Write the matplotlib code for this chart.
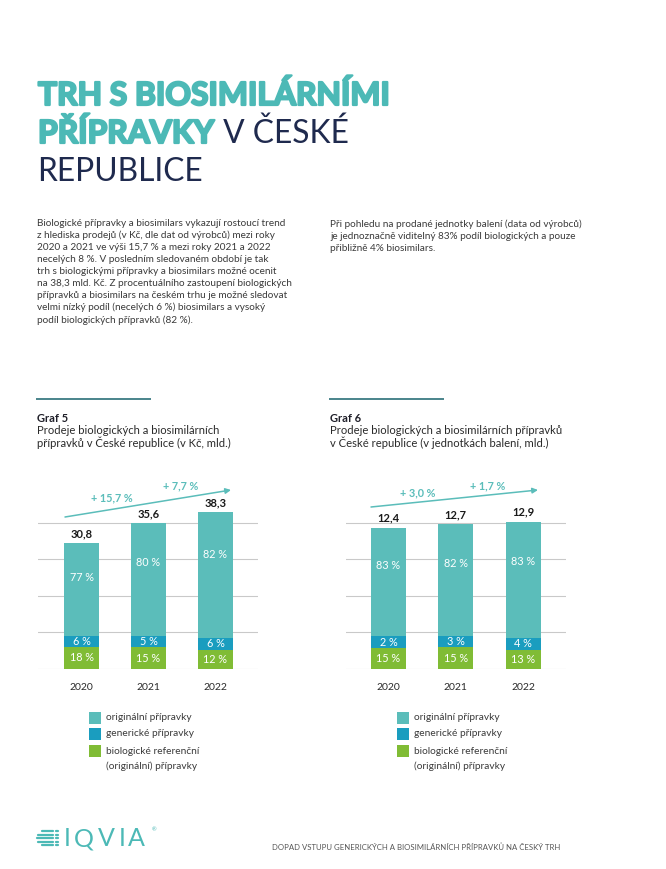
import matplotlib
matplotlib.use("Agg")
import matplotlib.pyplot as plt
import matplotlib.patheffects as pe
from matplotlib.patches import Rectangle
import numpy as np

plt.rcParams['font.family'] = ['Lato', 'DejaVu Sans']

# ---------------- data ----------------
years = ["2020", "2021", "2022"]

g5_totals = [30.8, 35.6, 38.3]
g5_original = [77, 80, 82]
g5_generic = [6, 5, 6]
g5_reference = [18, 15, 12]
g5_growth = ["+ 15,7 %", "+ 7,7 %"]

g6_totals = [12.4, 12.7, 12.9]
g6_original = [83, 82, 83]
g6_generic = [2, 3, 4]
g6_reference = [15, 15, 13]
g6_growth = ["+ 3,0 %", "+ 1,7 %"]

legend_labels = ["originální přípravky", "generické přípravky",
                 "biologické referenční\n(originální) přípravky"]

title_bold_1 = "TRH S BIOSIMILÁRNÍMI"
title_bold_2 = "PŘÍPRAVKY"
title_light_2 = " V ČESKÉ"
title_light_3 = "REPUBLICE"

body_left = [
    "Biologické přípravky a biosimilars vykazují rostoucí trend",
    "z hlediska prodejů (v Kč, dle dat od výrobců) mezi roky",
    "2020 a 2021 ve výši 15,7 % a mezi roky 2021 a 2022",
    "necelých 8 %. V posledním sledovaném období je tak",
    "trh s biologickými přípravky a biosimilars možné ocenit",
    "na 38,3 mld. Kč. Z procentuálního zastoupení biologických",
    "přípravků a biosimilars na českém trhu je možné sledovat",
    "velmi nízký podíl (necelých 6 %) biosimilars a vysoký",
    "podíl biologických přípravků (82 %).",
]
body_right = [
    "Při pohledu na prodané jednotky balení (data od výrobců)",
    "je jednoznačně viditelný 83% podíl biologických a pouze",
    "přibližně 4% biosimilars.",
]
g5_title = "Graf 5"
g5_sub = ["Prodeje biologických a biosimilárních",
          "přípravků v České republice (v Kč, mld.)"]
g6_title = "Graf 6"
g6_sub = ["Prodeje biologických a biosimilárních přípravků",
          "v České republice (v jednotkách balení, mld.)"]
footer_text = "DOPAD VSTUPU GENERICKÝCH A BIOSIMILÁRNÍCH PŘÍPRAVKŮ NA ČESKÝ TRH"

# ---------------- style ----------------
TEAL = "#5bbdba"
TITLE_TEAL = "#4cb9b6"
BLUE = "#1a9dbf"
GREEN = "#80bc35"
NAVY = "#1f2a4e"
BODY = "#3a3a3a"
GRID = "#c9c9c9"
MIN_SHARE = 0.08   # minimum visible share for the thin generic segment

W, H = 666, 869
fig = plt.figure(figsize=(W / 100, H / 100), dpi=100)
bg = fig.add_axes([0, 0, 1, 1])
bg.set_xlim(0, W)
bg.set_ylim(H, 0)
bg.axis("off")

# ---------------- title ----------------
TS = 22.9
heavy = [pe.withStroke(linewidth=1.6, foreground=TITLE_TEAL)]
bg.text(38, 105, title_bold_1, fontsize=TS, fontweight="bold",
        color=TITLE_TEAL, va="baseline", ha="left", path_effects=heavy)
t2 = bg.text(38, 143, title_bold_2, fontsize=TS, fontweight="bold",
             color=TITLE_TEAL, va="baseline", ha="left", path_effects=heavy)
fig.canvas.draw()
r = fig.canvas.get_renderer()
bb = t2.get_window_extent(r)
bg.text(bb.x1 + 1, 143, title_light_2, fontsize=TS, fontweight="normal",
        color=NAVY, va="baseline", ha="left")
bg.text(37, 181, title_light_3, fontsize=TS, fontweight="normal",
        color=NAVY, va="baseline", ha="left")

# ---------------- body text ----------------
for i, line in enumerate(body_left):
    bg.text(37, 223 + i * 12.1, line, fontsize=7.2, color=BODY, va="center", ha="left")
for i, line in enumerate(body_right):
    bg.text(330, 224 + i * 12.1, line, fontsize=7.2, color=BODY, va="center", ha="left")

# ---------------- graph headers ----------------
for x0, x1, title, sub in [(36, 151, g5_title, g5_sub), (329, 444, g6_title, g6_sub)]:
    bg.plot([x0, x1], [399, 399], color="#2b6f78", lw=1.2, solid_capstyle="butt")
    bg.text(x0 + 1, 418, title, fontsize=8, fontweight="bold", color="#1e1e28",
            va="center", ha="left")
    for i, line in enumerate(sub):
        bg.text(x0 + 1, 430 + i * 12.3, line, fontsize=8.1, color="#2a2a2a",
                va="center", ha="left")


def fmt(v):
    return f"{v:.1f}".replace(".", ",")


def draw_chart(left_px, right_px, c0, spacing, scale, totals, orig, gen, ref):
    base_y = 669
    top_y = 470
    ax = fig.add_axes([left_px / W, (H - base_y) / H,
                       (right_px - left_px) / W, (base_y - top_y) / H])
    ax.patch.set_alpha(0)
    ax.set_xlim((left_px - c0) / spacing, (right_px - c0) / spacing)
    ax.set_ylim(0, (base_y - top_y) / scale)
    x = np.arange(len(totals))
    tot = np.array(totals)
    o = np.array(orig, float)
    g = np.array(gen, float)
    rf = np.array(ref, float)
    s = o + g + rf
    ref_h = tot * rf / s
    gen_h = tot * np.maximum(g / s, MIN_SHARE)
    orig_h = tot - ref_h - gen_h
    w = 35 / spacing
    ax.bar(x, ref_h, width=w, color=GREEN, zorder=3)
    ax.bar(x, gen_h, width=w, bottom=ref_h, color=BLUE, zorder=3)
    ax.bar(x, orig_h, width=w, bottom=ref_h + gen_h, color=TEAL, zorder=3)
    for i in range(len(x)):
        ax.text(x[i], ref_h[i] / 2, f"{int(rf[i])} %", color="white", fontsize=7.8,
                ha="center", va="center", zorder=4)
        ax.text(x[i], ref_h[i] + gen_h[i] / 2, f"{int(g[i])} %", color="white",
                fontsize=7.8, ha="center", va="center", zorder=4)
        ax.text(x[i], tot[i] * 0.73, f"{int(o[i])} %", color="white", fontsize=7.8,
                ha="center", va="center", zorder=4)
        ax.annotate(fmt(tot[i]), (x[i], tot[i]), xytext=(0, 3), textcoords="offset points",
                    ha="center", va="bottom", fontsize=8, fontweight="bold",
                    color="#1a1a1a", zorder=4)
    ax.set_yticks(np.arange(5) * 36.6 / scale)
    ax.yaxis.grid(True, color=GRID, lw=0.8)
    ax.set_axisbelow(True)
    ax.set_yticklabels([])
    ax.set_xticks(x)
    ax.set_xticklabels(years, fontsize=7.5, color="#2a2a2a")
    ax.tick_params(axis="both", length=0)
    ax.tick_params(axis="x", pad=10)
    for sp in ax.spines.values():
        sp.set_visible(False)
    return ax


draw_chart(38, 258, 81.5, 67.0, 4.09, g5_totals, g5_original, g5_generic, g5_reference)
draw_chart(346, 566, 388.5, 67.25, 11.40, g6_totals, g6_original, g6_generic, g6_reference)

# growth arrows
arrow_kw = dict(arrowstyle="-|>", color=TEAL, lw=1.1, mutation_scale=8, shrinkA=0, shrinkB=0)
bg.annotate("", xy=(231, 490), xytext=(65, 517), arrowprops=arrow_kw)
bg.text(112, 498, g5_growth[0], fontsize=7.8, fontweight="bold", color=TEAL, ha="center", va="center")
bg.text(181, 486, g5_growth[1], fontsize=7.8, fontweight="bold", color=TEAL, ha="center", va="center")
bg.annotate("", xy=(538, 490), xytext=(371, 507), arrowprops=arrow_kw)
bg.text(418, 493, g6_growth[0], fontsize=7.8, fontweight="bold", color=TEAL, ha="center", va="center")
bg.text(488, 486, g6_growth[1], fontsize=7.8, fontweight="bold", color=TEAL, ha="center", va="center")

# legends
for lx in (89, 397):
    for y, c in [(718, TEAL), (734, BLUE), (751, GREEN)]:
        bg.add_patch(Rectangle((lx, y - 6), 12, 12, color=c, lw=0))
    bg.text(lx + 17, 718, legend_labels[0], fontsize=7.3, color=BODY, ha="left", va="center")
    bg.text(lx + 17, 734, legend_labels[1], fontsize=7.3, color=BODY, ha="left", va="center")
    l1, l2 = legend_labels[2].split("\n")
    bg.text(lx + 17, 751, l1, fontsize=7.3, color=BODY, ha="left", va="center")
    bg.text(lx + 17, 766, l2, fontsize=7.3, color=BODY, ha="left", va="center")

# footer logo (decorative)
for i, xs in enumerate([42, 38, 37, 38, 42]):
    yy = 831 + i * 3.5
    bg.plot([xs, 53], [yy, yy], color=TITLE_TEAL, lw=1.6, solid_capstyle="round")
    bg.plot([55.5, 57.5], [yy, yy], color=TITLE_TEAL, lw=1.6, solid_capstyle="round")
for ch, lx in zip("IQVIA", [64, 74, 98, 119, 128]):
    bg.text(lx, 846, ch, fontsize=18, fontweight="normal", color=TITLE_TEAL,
            ha="left", va="baseline")
bg.text(152, 830, "®", fontsize=4, color=TITLE_TEAL, ha="left", va="center")
bg.text(272, 847, footer_text, fontsize=5.6, color="#555555", ha="left", va="center")

fig.savefig("out.png", dpi=100)
